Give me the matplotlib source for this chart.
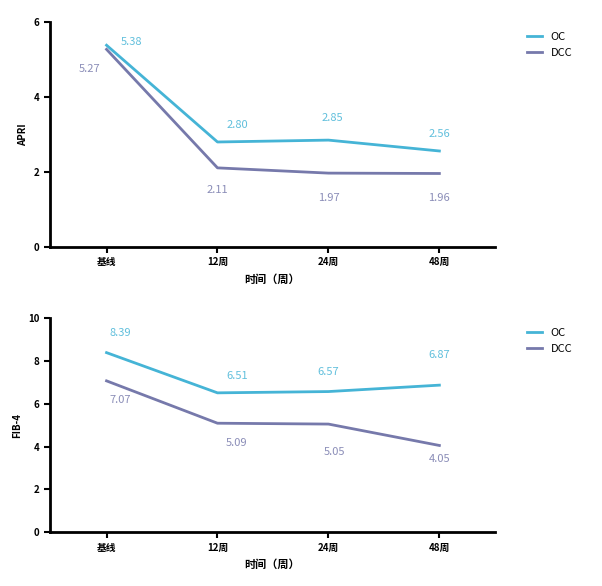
import matplotlib
matplotlib.use('Agg')
import matplotlib.pyplot as plt

plt.rcParams['font.family'] = ['Noto Sans CJK SC', 'DejaVu Sans']

# data
timepoints = ['基线', '12周', '24周', '48周']
apri_oc = [5.38, 2.80, 2.85, 2.56]
apri_dcc = [5.27, 2.11, 1.97, 1.96]
fib4_oc = [8.39, 6.51, 6.57, 6.87]
fib4_dcc = [7.07, 5.09, 5.05, 4.05]

OC_COLOR = '#45b4d6'
DCC_COLOR = '#7679ab'


def draw(ax, oc, dcc, ylabel, ymax, ystep, oc_off, dcc_off):
	x = list(range(len(timepoints)))
	ax.plot(x, oc, color=OC_COLOR, lw=2, label='OC')
	ax.plot(x, dcc, color=DCC_COLOR, lw=2, label='DCC')
	for i in x:
		ax.annotate('%.2f' % oc[i], (x[i], oc[i]), xytext=oc_off[i], textcoords='offset points',
			color=OC_COLOR, fontsize=8, ha='center', va='center', alpha=0.85)
		ax.annotate('%.2f' % dcc[i], (x[i], dcc[i]), xytext=dcc_off[i], textcoords='offset points',
			color=DCC_COLOR, fontsize=8, ha='center', va='center', alpha=0.85)
	ax.set_xlim(-0.51, 3.5)
	ax.set_ylim(0, ymax)
	ax.set_yticks(range(0, ymax + 1, ystep))
	ax.set_xticks(x)
	ax.set_xticklabels(timepoints, fontweight='bold')
	for lbl in ax.get_yticklabels():
		lbl.set_fontweight('bold')
	for s in ['top', 'right']:
		ax.spines[s].set_visible(False)
	for s in ['left', 'bottom']:
		ax.spines[s].set_linewidth(2)
	ax.tick_params(width=1.5, length=4, labelsize=7)
	ax.set_ylabel(ylabel, fontsize=7, fontweight='bold')
	ax.set_xlabel('时间（周）', fontsize=8, fontweight='bold')
	ax.legend(loc='upper left', bbox_to_anchor=(1.05, 1.0), frameon=False, fontsize=8,
		handlelength=1.3)


fig = plt.figure(figsize=(6.02, 5.86), dpi=100)
ax1 = fig.add_axes([0.083, 0.5785, 0.739, 0.384])
ax2 = fig.add_axes([0.083, 0.092, 0.739, 0.365])

draw(ax1, apri_oc, apri_dcc, 'APRI', 6, 2,
	[(18, 2), (14, 12), (3, 16), (0, 12)],
	[(-12, -14), (0, -16), (0, -18), (0, -18)])
draw(ax2, fib4_oc, fib4_dcc, 'FIB-4', 10, 2,
	[(10, 14), (14, 12), (0, 14), (0, 22)],
	[(10, -14), (14, -14), (4, -20), (0, -10)])

fig.savefig('out.png', dpi=100)
